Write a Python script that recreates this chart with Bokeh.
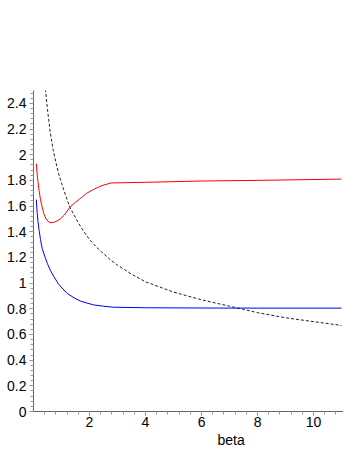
from bokeh.plotting import figure
from bokeh.models import FixedTicker, CustomJSTickFormatter, Title, Range1d
from bokeh.embed import file_html
from bokeh.resources import INLINE

# ---- data ----
red_x = [0.1, 0.13, 0.16, 0.2, 0.25, 0.3, 0.37, 0.45, 0.55, 0.63, 0.75, 0.85, 0.96, 1.1, 1.3, 1.5,
         1.68, 1.9, 2.15, 2.45, 2.77, 4.0, 6.0, 8.0, 11.0]
red_y = [1.93, 1.85, 1.79, 1.72, 1.65, 1.60, 1.54, 1.50, 1.475, 1.47, 1.475, 1.485, 1.50, 1.53, 1.59, 1.63,
         1.66, 1.70, 1.73, 1.76, 1.78, 1.785, 1.795, 1.80, 1.81]

blue_x = [0.1, 0.13, 0.16, 0.2, 0.25, 0.31, 0.4, 0.5, 0.6, 0.73, 0.9, 1.2, 1.45, 1.68, 1.9, 2.15,
          2.5, 2.86, 4.0, 6.0, 8.0, 11.0]
blue_y = [1.65, 1.55, 1.48, 1.41, 1.34, 1.27, 1.21, 1.15, 1.10, 1.05, 0.99, 0.92, 0.885, 0.86, 0.845, 0.83,
          0.82, 0.812, 0.808, 0.806, 0.805, 0.805]

black_x = [0.3, 0.35, 0.43, 0.5, 0.6, 0.7, 0.8, 0.9, 1.0, 1.15, 1.3, 1.45, 1.6, 1.8, 2.0, 2.25, 2.5,
           2.75, 3.0, 3.5, 4.0, 4.5, 5.0, 5.5, 6.0, 6.5, 7.0, 7.5, 8.0, 9.0, 10.0, 11.0]
black_y = [2.90, 2.72, 2.50, 2.35, 2.17, 2.04, 1.94, 1.85, 1.78, 1.68, 1.59, 1.53, 1.47, 1.40, 1.34, 1.28, 1.23,
           1.18, 1.14, 1.07, 1.01, 0.97, 0.93, 0.90, 0.87, 0.845, 0.82, 0.795, 0.77, 0.73, 0.70, 0.67]

x_ticks = [2, 4, 6, 8, 10]
y_ticks = [0, 0.2, 0.4, 0.6, 0.8, 1.0, 1.2, 1.4, 1.6, 1.8, 2.0, 2.2, 2.4]
x_label = "beta"

FONT = "Liberation Sans"

p = figure(width=343, height=466, output_backend="svg", toolbar_location=None,
           x_range=Range1d(0, 11.07), y_range=Range1d(0, 2.5),
           min_border_left=33, min_border_right=0, min_border_top=90, min_border_bottom=55)
p.outline_line_color = None
p.grid.visible = False
p.background_fill_color = "white"

p.line(black_x, black_y, line_color="#222222", line_width=1, line_dash="3 2")
p.line(red_x, red_y, line_color="#ff0000", line_width=1)
p.line(blue_x, blue_y, line_color="#0000ff", line_width=1)

x_minor = [round(0.4 * i, 2) for i in range(1, 28)]
y_minor = [round(0.04 * i, 2) for i in range(0, 63)]

p.xaxis.ticker = FixedTicker(ticks=x_ticks, minor_ticks=x_minor)
p.yaxis.ticker = FixedTicker(ticks=y_ticks, minor_ticks=y_minor)
fmt = "return String(Math.round(tick*10)/10);"
p.xaxis.formatter = CustomJSTickFormatter(code=fmt)
p.yaxis.formatter = CustomJSTickFormatter(code=fmt)

for ax in (p.xaxis, p.yaxis):
    ax.axis_line_color = "#666666"
    ax.major_tick_line_color = "#888888"
    ax.minor_tick_line_color = "#999999"
    ax.major_tick_out = 4
    ax.major_tick_in = 0
    ax.minor_tick_out = 3
    ax.minor_tick_in = 0
    ax.major_label_text_font = FONT
    ax.major_label_text_font_size = "14px"
    ax.major_label_text_color = "black"
p.yaxis.major_label_standoff = 3
p.xaxis.major_label_standoff = 1

t = Title(text=x_label, align="left", offset=184, text_font=FONT, text_font_size="14px",
          text_font_style="normal", text_color="black", standoff=0)
p.add_layout(t, "below")

open("out.html", "w").write(file_html(p, INLINE))
